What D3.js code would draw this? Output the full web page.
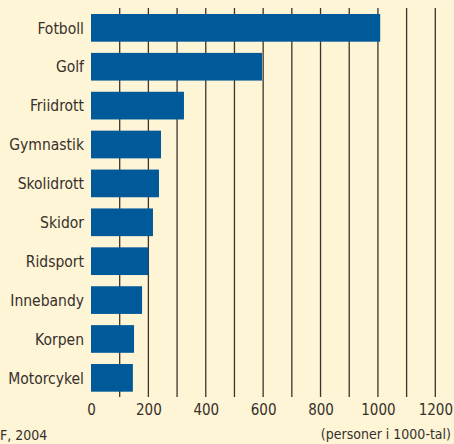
<!DOCTYPE html>
<html>
<head>
<meta charset="utf-8">
<script src="https://cdn.jsdelivr.net/npm/d3@7"></script>
<style>
  html, body { margin: 0; padding: 0; background: #FEF4D6; }
  svg { display: block; }
  text { font-family: "DejaVu Sans Condensed", "DejaVu Sans", sans-serif; font-stretch: condensed; fill: #35302b; }
</style>
</head>
<body>
<script>
const categories = ["Fotboll", "Golf", "Friidrott", "Gymnastik", "Skolidrott", "Skidor", "Ridsport", "Innebandy", "Korpen", "Motorcykel"];
const values = [1008, 596, 324, 244, 237, 216, 200, 178, 150, 146];
const tickValues = [0, 200, 400, 600, 800, 1000, 1200];
const gridValues = [100, 200, 300, 400, 500, 600, 700, 800, 900, 1000, 1100, 1200];
const sourceText = "F, 2004";
const unitText = "(personer i 1000-tal)";

const W = 454, H = 444;
const svg = d3.select("body").append("svg").attr("width", W).attr("height", H);
svg.append("rect").attr("width", W).attr("height", H).attr("fill", "#FEF4D6");

const x = d3.scaleLinear().domain([0, 1200]).range([91, 435.3]);
const y = d3.scaleBand().domain(categories).range([8.4, 397.3]).paddingInner(0.288).paddingOuter(0.144);

// gridlines
svg.append("g").selectAll("line").data(gridValues).join("line")
  .attr("x1", d => x(d)).attr("x2", d => x(d))
  .attr("y1", 8).attr("y2", 397)
  .attr("stroke", "#3d342b").attr("stroke-width", 1.3);

// bars
svg.append("g").selectAll("rect").data(categories).join("rect")
  .attr("x", x(0))
  .attr("y", d => y(d))
  .attr("width", (d, i) => x(values[i]) - x(0))
  .attr("height", y.bandwidth())
  .attr("fill", "#005A9A");

// category labels
svg.append("g").selectAll("text").data(categories).join("text")
  .attr("x", 84)
  .attr("y", d => y(d) + y.bandwidth() / 2)
  .attr("dy", "0.37em")
  .attr("text-anchor", "end")
  .attr("font-size", 15.5)
  .text(d => d);

// x axis tick labels
const xAxis = d3.axisBottom(x).tickValues(tickValues).tickSize(0).tickPadding(0).tickFormat(d3.format("d"));
const gx = svg.append("g").attr("transform", "translate(0,404)").call(xAxis);
gx.select(".domain").remove();
gx.selectAll("text")
  .attr("font-size", 15)
  .attr("dy", "0.76em")
  .attr("fill", "#35302b")
  .style("font-family", "\"DejaVu Sans Condensed\", \"DejaVu Sans\", sans-serif");

svg.append("text").attr("x", 0).attr("y", 440).attr("font-size", 14).text(sourceText);
svg.append("text").attr("x", 451).attr("y", 439).attr("text-anchor", "end").attr("font-size", 14).text(unitText);
</script>
</body>
</html>
